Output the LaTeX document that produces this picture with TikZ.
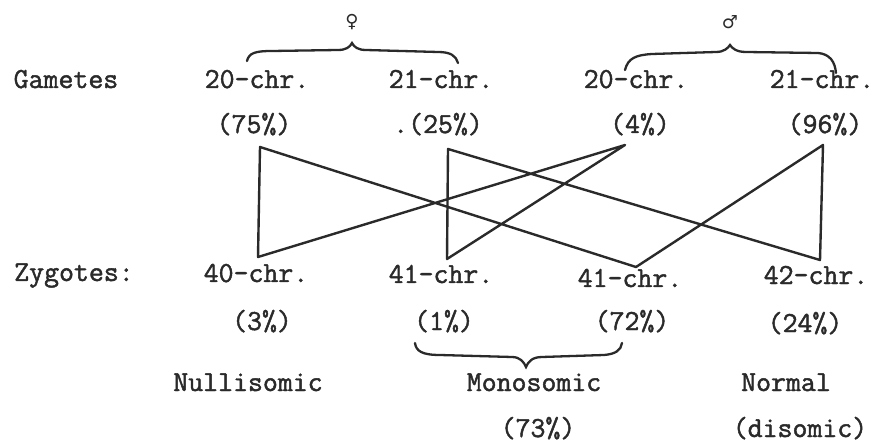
\documentclass[tikz,border=0pt]{standalone}
\usepackage{fontspec}
\newfontfamily\twfont[FakeBold=1.6]{Latin Modern Mono}
\newfontfamily\symfont{DejaVu Sans}
\definecolor{ink}{HTML}{2A2A2A}
\begin{document}
\begin{tikzpicture}[x=1pt,y=-1pt,
  lbl/.style={font=\twfont\fontsize{29}{32}\selectfont, anchor=base, inner sep=0pt, text=ink},
  sym/.style={font=\symfont\bfseries\fontsize{18}{20}\selectfont, anchor=center, inner sep=0pt, text=ink},
  link/.style={draw=ink, line width=2.4pt, line join=round, line cap=round},
  bracestroke/.style={draw=ink, line width=2.3pt, line cap=round}]
\useasboundingbox (0,0) rectangle (877,443);
% labels: gametes
\node[lbl] (gam) at (66,88) {Gametes};
\node[lbl] (g1) at (257,88) {20-chr.};
\node[lbl] (g2) at (441,88) {21-chr.};
\node[lbl] (g3) at (636,88) {20-chr.};
\node[lbl] (g4) at (822,88) {21-chr.};
\node[lbl] (p1) at (254,133) {(75\%)};
\node[lbl] (p2) at (438,133) {.(25\%)};
\node[lbl] (p3) at (640,133) {(4\%)};
\node[lbl] (p4) at (825,133) {(96\%)};
% symbols
\node[sym] (fem) at (352,22) {♀};
\node[sym] (mal) at (730,22) {♂};
% zygotes
\node[lbl] (zyg) at (74,281) {Zygotes:};
\node[lbl] (z1) at (256,282) {40-chr.};
\node[lbl] (z2) at (441,283) {41-chr.};
\node[lbl] (z3) at (630,287) {41-chr.};
\node[lbl] (z4) at (816,284) {42-chr.};
\node[lbl] (q1) at (262,330) {(3\%)};
\node[lbl] (q2) at (444,330) {(1\%)};
\node[lbl] (q3) at (632,330) {(72\%)};
\node[lbl] (q4) at (805,332) {(24\%)};
\node[lbl] (nul) at (248,391) {Nullisomic};
\node[lbl] (mon) at (534,391) {Monosomic};
\node[lbl] (nor) at (786,391) {Normal};
\node[lbl] (mp) at (538,437) {(73\%)};
\node[lbl] (dis) at (800,437) {(disomic)};
% vertices of the crossing lines
\coordinate (a) at (260,147);
\coordinate (b) at (448,149);
\coordinate (c) at (625,145);
\coordinate (d) at (823,145);
\coordinate (e) at (258,257);
\coordinate (f) at (447,259);
\coordinate (g) at (636,267);
\coordinate (h) at (820,260);
\draw[link] (a) -- (e) -- (c) -- (f) -- (b) -- (h) -- (d) -- (g) -- cycle;
% female brace
\draw[bracestroke] (247,61) .. controls (249,53) and (255,51) .. (272,51)
  -- (338,50) .. controls (346,50) and (350,47) .. (352,43)
  .. controls (354,47) and (358,50) .. (366,50)
  -- (438,52) .. controls (451,52) and (456,56) .. (458,63);
% male brace
\draw[bracestroke] (625,70) .. controls (628,58) and (636,55) .. (652,54)
  -- (716,52) .. controls (724,52) and (728,48) .. (730,45)
  .. controls (732,48) and (736,52) .. (746,52)
  -- (818,53) .. controls (830,54) and (835,62) .. (836,73);
% monosomic brace
\draw[bracestroke] (415,343) .. controls (416,351) and (422,355) .. (440,355)
  -- (512,357) .. controls (520,357) and (524,362) .. (526,367)
  .. controls (528,362) and (532,357) .. (542,357)
  -- (604,355) .. controls (616,354) and (621,350) .. (622,343);
\end{tikzpicture}
\end{document}
